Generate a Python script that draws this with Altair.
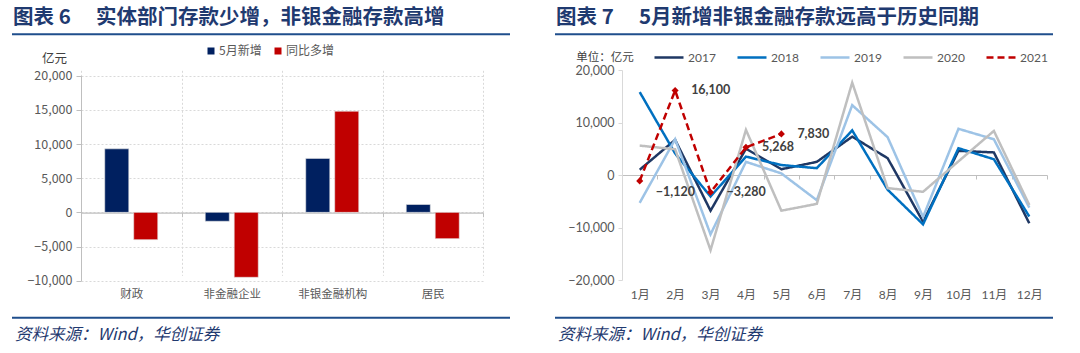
import altair as alt
import pandas as pd

# ---------------- data ----------------
sectors = ["财政", "非金融企业", "非银金融机构", "居民"]
bar_series = ["5月新增", "同比多增"]
may_new = [9300, -1300, 7900, 1150]
yoy_more = [-4000, -9500, 14800, -3850]

months = ["1月", "2月", "3月", "4月", "5月", "6月", "7月", "8月", "9月", "10月", "11月", "12月"]
years = ["2017", "2018", "2019", "2020", "2021"]
y2017 = [1000, 6700, -6800, 5000, 1100, 2500, 7300, 3200, -8900, 4600, 4300, -9200]
y2018 = [15800, 4100, -4100, 3500, 1900, 1300, 8500, -2800, -9400, 5100, 3000, -7900]
y2019 = [-5300, 6800, -11300, 2500, 300, -4800, 13300, 7200, -8000, 8800, 6800, -6200]
y2020 = [5600, 4900, -14300, 8600, -6800, -5500, 17600, -2500, -3200, 2600, 8400, -5700]
y2021 = [-1120, 16100, -3280, 5268, 7830]

title_left = "图表  6 　实体部门存款少增，非银金融存款高增"
title_right = "图表  7 　5月新增非银金融存款远高于历史同期"
source_text = "资料来源：Wind，华创证券"
unit_left = "亿元"
unit_right = "单位：亿元"

# ---------------- tables ----------------
bar_df = pd.DataFrame({
    "sector": sectors * 2,
    "series": [bar_series[0]] * len(sectors) + [bar_series[1]] * len(sectors),
    "value": may_new + yoy_more,
})

rows = []
for yr, vals in zip(years, [y2017, y2018, y2019, y2020, y2021]):
    for m, v in zip(months, vals):
        rows.append({"year": yr, "month": m, "value": v})
line_df = pd.DataFrame(rows)
df21 = line_df[line_df["year"] == "2021"]

CJK = "Noto Sans CJK SC"
NUM = "Lato, 'Noto Sans CJK SC'"
TITLE_C = "#1F3A70"
LINE_C = "#1F4E8C"
GRAY_T = "#595959"


def one(d):
    return alt.Data(values=[d])


def decorations(x_left, x_right, frame_left, frame_right, title, unit, unit_x, unit_y, unit_size):
    t = alt.Chart(one({"t": title})).mark_text(
        align="left", baseline="middle", font=CJK, fontSize=20.5, fontWeight="bold", color=TITLE_C
    ).encode(x=alt.value(x_left + 1), y=alt.value(-52), text="t:N")
    ul = alt.Chart(one({"a": 1})).mark_rule(color=LINE_C, strokeWidth=2).encode(
        x=alt.value(x_left), x2=alt.value(x_right), y=alt.value(-35.7))
    fl = alt.Chart(one({"a": 1})).mark_rule(color=LINE_C, strokeWidth=2).encode(
        x=alt.value(x_left), x2=alt.value(x_right), y=alt.value(247.7))
    ft = alt.Chart(one({"t": source_text})).mark_text(
        align="left", baseline="middle", font=CJK, fontSize=16.5, fontStyle="italic", color=TITLE_C
    ).encode(x=alt.value(x_left + 3), y=alt.value(265), text="t:N")
    un = alt.Chart(one({"t": unit})).mark_text(
        align="center", baseline="middle", font=CJK, fontSize=unit_size, color="#404040"
    ).encode(x=alt.value(unit_x), y=alt.value(unit_y), text="t:N")
    fr1 = alt.Chart(one({"a": 1})).mark_rule(opacity=0, color="white").encode(
        x=alt.value(frame_left), x2=alt.value(frame_right), y=alt.value(-70))
    fr2 = alt.Chart(one({"a": 1})).mark_rule(opacity=0, color="white").encode(
        x=alt.value(frame_left), y=alt.value(-70), y2=alt.value(283))
    fr3 = alt.Chart(one({"a": 1})).mark_rule(opacity=0, color="white").encode(
        x=alt.value(frame_right), y=alt.value(-70), y2=alt.value(283))
    return [t, ul, fl, ft, un, fr1, fr2, fr3]


# ---------------- left panel ----------------
LW, LH = 402, 211
bars = alt.Chart(bar_df).mark_bar(stroke="#E6E6E6", strokeWidth=0.6).encode(
    x=alt.X("sector:N", sort=sectors,
            scale=alt.Scale(paddingInner=0, paddingOuter=0),
            axis=alt.Axis(title=None, orient="bottom", offset=-68.3, labelAngle=0,
                          domainColor="#BFBFBF", domainWidth=1.2, tickColor="#BFBFBF", tickSize=4,
                          tickBand="extent", labelPadding=72, labelFont=CJK, labelFontSize=11.5,
                          labelColor=GRAY_T, grid=True, gridColor="#D9D9D9", gridDash=[2, 2])),
    xOffset=alt.XOffset("series:N", sort=bar_series,
                        scale=alt.Scale(paddingInner=0.17, paddingOuter=0.82)),
    y=alt.Y("value:Q",
            scale=alt.Scale(domain=[-10000, 20000], range=[210.7, 5.7], nice=False),
            axis=alt.Axis(title=None, values=[-10000, -5000, 0, 5000, 10000, 15000, 20000], format=",.0f",
                          domainColor="#BFBFBF", tickColor="#BFBFBF", tickSize=5, labelPadding=4,
                          labelFont=CJK, labelFontSize=12.5, labelColor=GRAY_T,
                          grid=True, gridColor="#D9D9D9", gridDash=[2, 2])),
    color=alt.Color("series:N", sort=bar_series,
                    scale=alt.Scale(domain=bar_series, range=["#002060", "#C00000"]),
                    legend=alt.Legend(title=None, orient="none", legendX=124, legendY=-25,
                                      direction="horizontal", symbolType="square", symbolSize=49,
                                      symbolStrokeWidth=0, labelFont=CJK, labelFontSize=12,
                                      labelColor=GRAY_T, columnPadding=10, labelOffset=2, padding=0)),
)

left = alt.layer(
    bars,
    *decorations(-69, 429, -81, 431, title_left, unit_left, -26.5, -11, 12.5),
).properties(width=LW, height=LH)

# ---------------- right panel ----------------
RW, RH = 425, 210
leg = alt.Legend(title=None, orient="none", legendX=31, legendY=-28.5, direction="horizontal",
                 symbolType="stroke", symbolSize=841, symbolStrokeWidth=2.5, labelFont=NUM,
                 labelFontSize=12, labelColor=GRAY_T, columnPadding=16, labelOffset=3, padding=0)

xr = alt.X("month:N", sort=months,
           scale=alt.Scale(type="band", paddingInner=0, paddingOuter=0),
           axis=alt.Axis(title=None, orient="bottom", offset=-105, labelAngle=0,
                         domainColor="#BFBFBF", domainWidth=1.2, tickColor="#BFBFBF", tickSize=4,
                         tickBand="extent", labelPadding=110, labelFont=NUM, labelFontSize=12,
                         labelColor=GRAY_T, grid=False))
yr_ = alt.Y("value:Q", scale=alt.Scale(domain=[-20000, 20000], nice=False),
            axis=alt.Axis(title=None, values=list(range(-20000, 20001, 5000)), format=",.0f",
                          domainColor="#D9D9D9", tickColor="#D9D9D9", tickSize=4, labelPadding=4,
                          labelFont=NUM, labelFontSize=12.5, labelColor=GRAY_T, grid=False))

lines = alt.Chart(line_df).mark_line(strokeWidth=2.5).encode(
    x=xr, y=yr_,
    color=alt.Color("year:N", sort=years,
                    scale=alt.Scale(domain=years,
                                    range=["#1F3864", "#0070C0", "#9DC3E6", "#BFBFBF", "#C00000"]),
                    legend=leg),
    strokeDash=alt.StrokeDash("year:N", sort=years,
                              scale=alt.Scale(domain=years,
                                              range=[[1, 0], [1, 0], [1, 0], [1, 0], [7, 4]]),
                              legend=leg),
)

pts = alt.Chart(df21).mark_point(shape="diamond", filled=True, size=50, color="#C00000", opacity=1).encode(
    x=alt.X("month:N", sort=months), y="value:Q")

lab_main = alt.Chart(df21).transform_filter(alt.datum.month != "1月").mark_text(
    align="left", baseline="middle", dx=16, font=NUM, fontSize=12.5, fontWeight="bold", color="#404040"
).encode(x=alt.X("month:N", sort=months), y="value:Q", text=alt.Text("value:Q", format=","))

lab_first = alt.Chart(df21).transform_filter(alt.datum.month == "1月").mark_text(
    align="left", baseline="middle", dx=16, dy=11, font=NUM, fontSize=12.5, fontWeight="bold", color="#404040"
).encode(x=alt.X("month:N", sort=months), y="value:Q", text=alt.Text("value:Q", format=","))

right = alt.layer(
    lines, pts, lab_main, lab_first,
    *decorations(-67, 431, -69, 458, title_right, unit_right, -17, -12, 11.5),
).properties(width=RW, height=RH)

chart = alt.hconcat(left, right, spacing=41).resolve_scale(
    x="independent", y="independent", color="independent", strokeDash="independent"
).resolve_legend(color="independent", strokeDash="independent").properties(
    padding=0, background="white"
).configure_view(stroke=None)

chart.save("out.html", embed_options={"renderer": "svg", "actions": False})
